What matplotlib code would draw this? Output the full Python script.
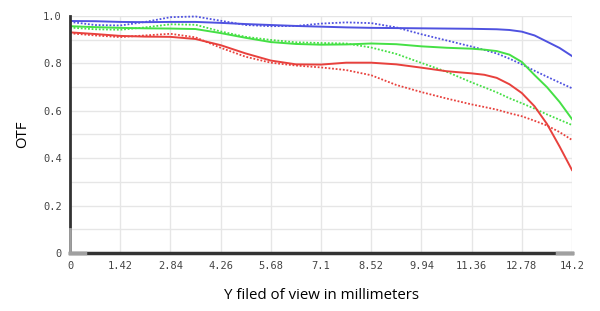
import numpy as np
import matplotlib
matplotlib.use('Agg')
import matplotlib.pyplot as plt

# field positions (mm)
field = [0, 0.71, 1.42, 2.13, 2.84, 3.55, 4.26, 4.97, 5.68, 6.39, 7.1,
         7.81, 8.52, 9.23, 9.94, 10.65, 11.36, 11.72, 12.07, 12.43, 12.78, 13.14,
         13.49, 13.85, 14.2]

blue_solid = [0.979, 0.978, 0.975, 0.974, 0.975, 0.975, 0.971, 0.966, 0.962, 0.958, 0.955,
              0.952, 0.950, 0.949, 0.948, 0.947, 0.946, 0.945, 0.944, 0.941, 0.934, 0.918,
              0.892, 0.865, 0.831]
blue_dotted = [0.975, 0.962, 0.960, 0.975, 0.995, 0.998, 0.980, 0.962, 0.957, 0.958, 0.968,
               0.973, 0.970, 0.952, 0.923, 0.897, 0.871, 0.857, 0.842, 0.820, 0.796, 0.769,
               0.744, 0.719, 0.695]
green_solid = [0.957, 0.953, 0.950, 0.948, 0.947, 0.945, 0.928, 0.908, 0.890, 0.882, 0.879,
               0.880, 0.884, 0.881, 0.872, 0.866, 0.862, 0.858, 0.852, 0.837, 0.806, 0.751,
               0.700, 0.637, 0.565]
green_dotted = [0.951, 0.944, 0.942, 0.952, 0.965, 0.963, 0.935, 0.912, 0.899, 0.889, 0.886,
                0.884, 0.867, 0.840, 0.802, 0.765, 0.720, 0.699, 0.678, 0.653, 0.632, 0.609,
                0.585, 0.562, 0.540]
red_solid = [0.931, 0.924, 0.916, 0.913, 0.912, 0.903, 0.877, 0.842, 0.812, 0.796, 0.795,
             0.803, 0.803, 0.796, 0.782, 0.767, 0.758, 0.752, 0.739, 0.712, 0.675, 0.619,
             0.545, 0.449, 0.350]
red_dotted = [0.927, 0.918, 0.911, 0.918, 0.925, 0.910, 0.866, 0.828, 0.803, 0.791, 0.783,
              0.772, 0.750, 0.709, 0.679, 0.652, 0.627, 0.616, 0.605, 0.590, 0.577, 0.558,
              0.538, 0.510, 0.477]

xticks = [0, 1.42, 2.84, 4.26, 5.68, 7.1, 8.52, 9.94, 11.36, 12.78, 14.2]
xtick_labels = ['0', '1.42', '2.84', '4.26', '5.68', '7.1', '8.52', '9.94', '11.36', '12.78', '14.2']
yticks = [0, 0.2, 0.4, 0.6, 0.8, 1.0]
ytick_labels = ['0', '0.2', '0.4', '0.6', '0.8', '1.0']

blue = '#4f52e0'
green = '#45e045'
red = '#e8413d'

fig = plt.figure(figsize=(6, 3.11), dpi=100)
ax = fig.add_axes([70/600, 1 - 253/311, 502/600, 237/311])

dot = (0, (1, 1))
ax.plot(field, blue_solid, color=blue, lw=1.4)
ax.plot(field, blue_dotted, color=blue, lw=1.3, ls=dot, clip_on=False)
ax.plot(field, green_solid, color=green, lw=1.4)
ax.plot(field, green_dotted, color=green, lw=1.3, ls=dot)
ax.plot(field, red_solid, color=red, lw=1.4)
ax.plot(field, red_dotted, color=red, lw=1.3, ls=dot)

ax.set_xlim(0, 14.2)
ax.set_ylim(0, 1.0)
ax.set_xticks(xticks)
ax.set_xticklabels(xtick_labels)
ax.set_yticks(yticks)
ax.set_yticklabels(ytick_labels)
ax.set_yticks(np.arange(0.1, 1.0, 0.2), minor=True)
ax.grid(True, which='both', color='#e6e6e6', lw=1)
ax.set_axisbelow(True)
ax.tick_params(which='both', length=0)
ax.tick_params(axis='x', pad=6)
ax.tick_params(axis='y', pad=6)
for lab in ax.get_xticklabels() + ax.get_yticklabels():
    lab.set_family('DejaVu Sans Mono')
    lab.set_fontsize(7.5)
    lab.set_color('#444444')

for s in ['top', 'right']:
    ax.spines[s].set_visible(False)
ax.spines['left'].set_color('#333333')
ax.spines['left'].set_linewidth(2)
ax.spines['bottom'].set_color('#333333')
ax.spines['bottom'].set_linewidth(2.5)
ax.axhline(0, xmin=0, xmax=0.03, color='#a0a0a0', lw=2.5, clip_on=False, zorder=5)
ax.axhline(0, xmin=0.97, xmax=1, color='#a0a0a0', lw=2.5, clip_on=False, zorder=5)
ax.axvline(0, ymin=0, ymax=0.1, color='#a0a0a0', lw=2, clip_on=False, zorder=5)

ax.set_xlabel('Y filed of view in millimeters', family='Open Sans', fontsize=10.8, labelpad=12)
ax.set_ylabel('OTF', family='Open Sans', fontsize=10.8, labelpad=9)

fig.savefig('out.png', dpi=100)
